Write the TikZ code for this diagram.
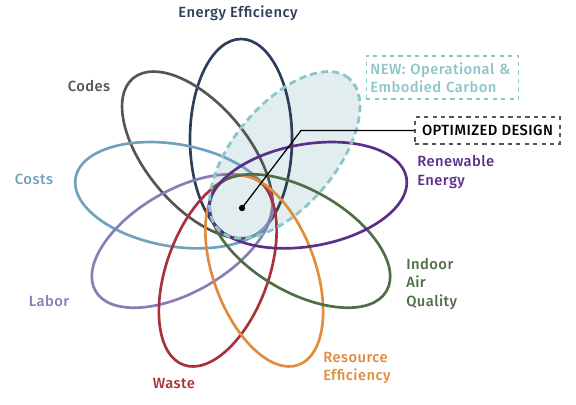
\documentclass[tikz,border=0pt]{standalone}
\usepackage{fontspec}
\setmainfont{Fira Sans}[UprightFont={* Medium}, LetterSpace=3]
\usetikzlibrary{positioning,calc}
\usepackage{xcolor}
\definecolor{flNavy}{HTML}{2C3E5C}
\definecolor{flCodes}{HTML}{555555}
\definecolor{flCosts}{HTML}{6FA3BC}
\definecolor{flRenew}{HTML}{5C2E8A}
\definecolor{flAir}{HTML}{4F6E46}
\definecolor{flLabor}{HTML}{8A7DB5}
\definecolor{flWaste}{HTML}{A8323A}
\definecolor{flRes}{HTML}{E08C3A}
\definecolor{flCarb}{HTML}{8CC6C8}
\definecolor{flCarbFill}{HTML}{E1EDEF}
\definecolor{flOpt}{HTML}{555555}
\newcommand{\flpetal}[2]{
  \begin{scope}[shift={(241,197)}, rotate=#1]
    \draw[petal, #2] (68,0) ellipse (100 and 51);
  \end{scope}}

\begin{document}
\begin{tikzpicture}[x=0.025cm, y=0.025cm,
  petal/.style={line width=1.9pt},
  lbl/.style={font=\fontsize{10.5}{13}\selectfont, align=left, inner sep=0pt},
  tag/.style={draw, dashed, line width=0.8pt, inner sep=0pt, font=\fontsize{10.5}{13}\selectfont}]
\useasboundingbox (0,0) rectangle (576,404);
% light fill under the carbon petal and the centre
\begin{scope}[shift={(241,197)}, rotate=50]
  \fill[flCarbFill] (68,0) ellipse (100 and 51);
\end{scope}
\fill[flCarbFill] (241,197) circle (29);
% the petals
\foreach \a/\c in {90/flNavy,130/flCodes,170/flCosts,210/flLabor,250/flWaste,290/flRes,330/flAir,10/flRenew}{\flpetal{\a}{\c}}
\begin{scope}[shift={(241,197)}, rotate=50]
  \draw[flCarb, line width=2pt, dash pattern=on 5pt off 3pt] (68,0) ellipse (100 and 51);
\end{scope}
% labels
\node[lbl, text=flNavy] (lEnergy) at (238,391) {Energy Efficiency};
\node[lbl, text=flCodes] (lCodes) at (89,318) {Codes};
\node[lbl, text=flCosts] (lCosts) at (34,225) {Costs};
\node[lbl, text=flRenew, anchor=west] (lRenew) at (417,232) {Renewable\\Energy};
\node[lbl, text=flAir, anchor=west] (lAir) at (406,120) {Indoor\\Air\\Quality};
\node[lbl, text=flLabor] (lLabor) at (49,103) {Labor};
\node[lbl, text=flWaste] (lWaste) at (174,21) {Waste};
\node[lbl, text=flRes, anchor=west] (lRes) at (323,36) {Resource\\Efficiency};
\node[tag, draw=flCarb, text=flCarb, align=left, text width=3.6cm, inner xsep=0.11cm,
  minimum width=3.775cm, minimum height=1.075cm] (carb) at (442.5,326.5)
  {NEW: Operational \&\\Embodied Carbon};
\node[tag, draw=flOpt, text=black, minimum width=3.625cm, minimum height=0.675cm] (opt) at (487.5,273.5)
  {OPTIMIZED DESIGN};
% pointer to the centre
\node[circle, fill=black, inner sep=0pt, minimum size=4.5pt] (dot) at (242,196) {};
\coordinate (bend) at (301,273.5);
\draw[line width=0.9pt] (dot.center) -- (bend) -- (opt.west);
\end{tikzpicture}
\end{document}
